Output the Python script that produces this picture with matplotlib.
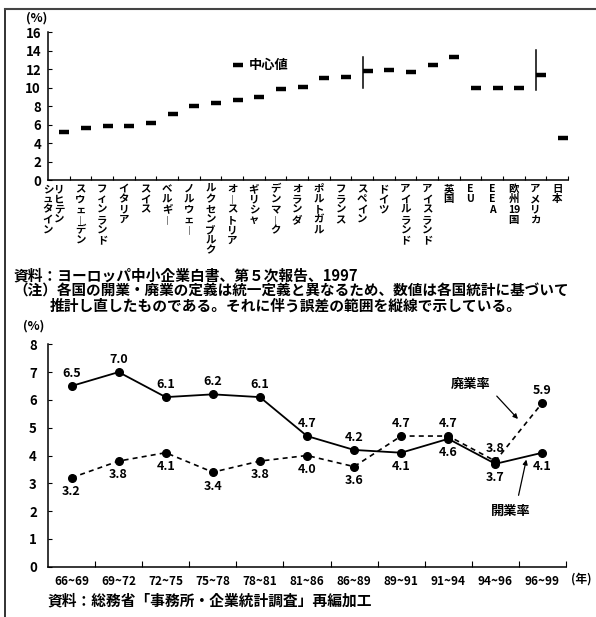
import re
import numpy as np
import matplotlib
matplotlib.use('Agg')
import matplotlib.pyplot as plt
from matplotlib.lines import Line2D
from matplotlib.transforms import offset_copy

plt.rcParams['font.family'] = ['Noto Sans CJK JP', 'DejaVu Sans']
plt.rcParams['font.weight'] = 'bold'

# --- top chart: median rate by country ("/" splits a vertical label into columns)
countries = ['リヒテン/シュタイン', 'スウェーデン', 'フィンランド', 'イタリア', 'スイス',
             'ベルギー', 'ノルウェー', 'ルクセンブルク', 'オーストリア', 'ギリシャ',
             'デンマーク', 'オランダ', 'ポルトガル', 'フランス', 'スペイン', 'ドイツ',
             'アイルランド', 'アイスランド', '英国', 'EU', 'EEA', '欧州19国',
             'アメリカ', '日本']
medians = [5.2, 5.6, 5.8, 5.8, 6.2, 7.1, 8.0, 8.3, 8.7, 9.0, 9.9, 10.1,
           11.0, 11.2, 11.8, 11.9, 11.7, 12.5, 13.3, 10.0, 10.0, 10.0, 11.4, 4.6]
range_countries = ['スペイン', 'アメリカ']
range_low = [10.0, 9.7]
range_high = [13.3, 14.1]

# --- bottom chart: Japan opening / closing rates
periods = ['66~69', '69~72', '72~75', '75~78', '78~81', '81~86',
           '86~89', '89~91', '91~94', '94~96', '96~99']
open_rate = [6.5, 7.0, 6.1, 6.2, 6.1, 4.7, 4.2, 4.1, 4.6, 3.7, 4.1]
close_rate = [3.2, 3.8, 4.1, 3.4, 3.8, 4.0, 3.6, 4.7, 4.7, 3.8, 5.9]

W, H = 596, 617
fig = plt.figure(figsize=(W / 100, H / 100), dpi=100)


def fx(px):
    return px / W


def fy(py):
    return 1 - py / H


# frame lines of the page
fig.add_artist(Line2D([fx(5), fx(5)], [0, fy(9)], color='#222222', lw=1.3))
fig.add_artist(Line2D([fx(5), 1], [fy(9), fy(9)], color='#444444', lw=1.5))

# ---------------- top chart
ax1 = fig.add_axes([fx(48), fy(180), fx(520), 147.7 / H])
x = np.arange(len(countries))
ax1.plot(x + 0.25, medians, ls='none', marker='_', ms=7.5, mew=3.2, color='black')
for name, lo, hi in zip(range_countries, range_low, range_high):
    i = countries.index(name)
    ax1.plot([i + 0.02, i + 0.02], [lo, hi], color='black', lw=1.1)

# legend mark
ax1.plot([8.25], [12.5], ls='none', marker='_', ms=7.5, mew=3.2, color='black')
ax1.text(8.75, 12.5, '中心値', ha='left', va='center', fontsize=9.5)

ax1.set_xlim(-0.5, len(countries) - 0.5)
ax1.set_ylim(0, 16)
ax1.set_yticks(range(0, 17, 2))
ax1.set_xticks(np.arange(0.5, len(countries), 1))
ax1.set_xticklabels([])
ax1.tick_params(axis='x', direction='in', length=3, width=0.8)
ax1.tick_params(axis='y', direction='in', length=3, width=0.8, labelsize=9.5, pad=5)
for s in ['top', 'right']:
    ax1.spines[s].set_visible(False)
for s in ['left', 'bottom']:
    ax1.spines[s].set_linewidth(1.1)


def vertical_tokens(s):
    return re.findall(r'\d+|.', s.replace('ー', '︱'))


xform = ax1.get_xaxis_transform()
for i, name in enumerate(countries):
    for j, col in enumerate(name.split('/')):
        for k, tok in enumerate(vertical_tokens(col)):
            tr = offset_copy(xform, fig=fig, x=-11 * j, y=-9 - 10.3 * k, units='dots')
            ax1.text(i, 0, tok, transform=tr, ha='center', va='center', fontsize=7.5)

fig.text(fx(37), fy(18), '(%)', ha='center', va='center', fontsize=9)

# notes
fig.text(fx(13), fy(275), '資料：ヨーロッパ中小企業白書、第５次報告、1997',
         ha='left', va='center', fontsize=10.6)
fig.text(fx(13), fy(291), '（注）各国の開業・廃業の定義は統一定義と異なるため、数値は各国統計に基づいて',
         ha='left', va='center', fontsize=10.5)
fig.text(fx(50), fy(306), '推計し直したものである。それに伴う誤差の範囲を縦線で示している。',
         ha='left', va='center', fontsize=10.6)

# ---------------- bottom chart
ax2 = fig.add_axes([fx(48), fy(566.7), fx(518), 222.4 / H])
xp = np.arange(len(periods))
ax2.plot(xp, open_rate, color='black', lw=1.3, marker='o', ms=5.5)
ax2.plot(xp, close_rate, color='black', lw=1.2, ls=(0, (3, 2.5)), marker='o', ms=5.5)

for i in range(len(periods)):
    hi_open = open_rate[i] >= close_rate[i]
    ax2.annotate(f'{open_rate[i]:.1f}', (i, open_rate[i]), textcoords='offset points',
                 xytext=(0, 9 if hi_open else -10), ha='center', va='center', fontsize=9)
    ax2.annotate(f'{close_rate[i]:.1f}', (i, close_rate[i]), textcoords='offset points',
                 xytext=(0, -10 if hi_open else 9), ha='center', va='center', fontsize=9)

# series labels with pointers
ax2.text(8.48, 6.57, '廃業率', ha='center', va='center', fontsize=9.5)
ax2.annotate('', xy=(9.52, 5.24), xytext=(8.99, 6.21),
             arrowprops=dict(arrowstyle='-|>', color='black', lw=0.9, mutation_scale=7))
ax2.text(9.33, 2.0, '開業率', ha='center', va='center', fontsize=9.5)
ax2.annotate('', xy=(9.67, 3.95), xytext=(9.48, 2.47),
             arrowprops=dict(arrowstyle='-|>', color='black', lw=0.9, mutation_scale=7))

ax2.set_xlim(-0.5, len(periods) - 0.5)
ax2.set_ylim(0, 8)
ax2.set_yticks(range(0, 9))
ax2.set_xticks(xp)
ax2.set_xticklabels(periods, fontsize=8.5)
ax2.set_xticks(np.arange(0.5, len(periods), 1), minor=True)
ax2.tick_params(axis='x', which='major', length=0, pad=6)
ax2.tick_params(axis='x', which='minor', direction='in', length=4, width=0.8)
ax2.tick_params(axis='y', direction='in', length=3, width=0.8, labelsize=9.5, pad=8)
for s in ['top', 'right']:
    ax2.spines[s].set_visible(False)
for s in ['left', 'bottom']:
    ax2.spines[s].set_linewidth(1.1)

fig.text(fx(34), fy(326), '(%)', ha='center', va='center', fontsize=9)
fig.text(fx(581), fy(579), '(年)', ha='center', va='center', fontsize=8.5)
fig.text(fx(47), fy(600), '資料：総務省「事務所・企業統計調査」再編加工',
         ha='left', va='center', fontsize=10.6)

fig.savefig('out.png', dpi=100)
